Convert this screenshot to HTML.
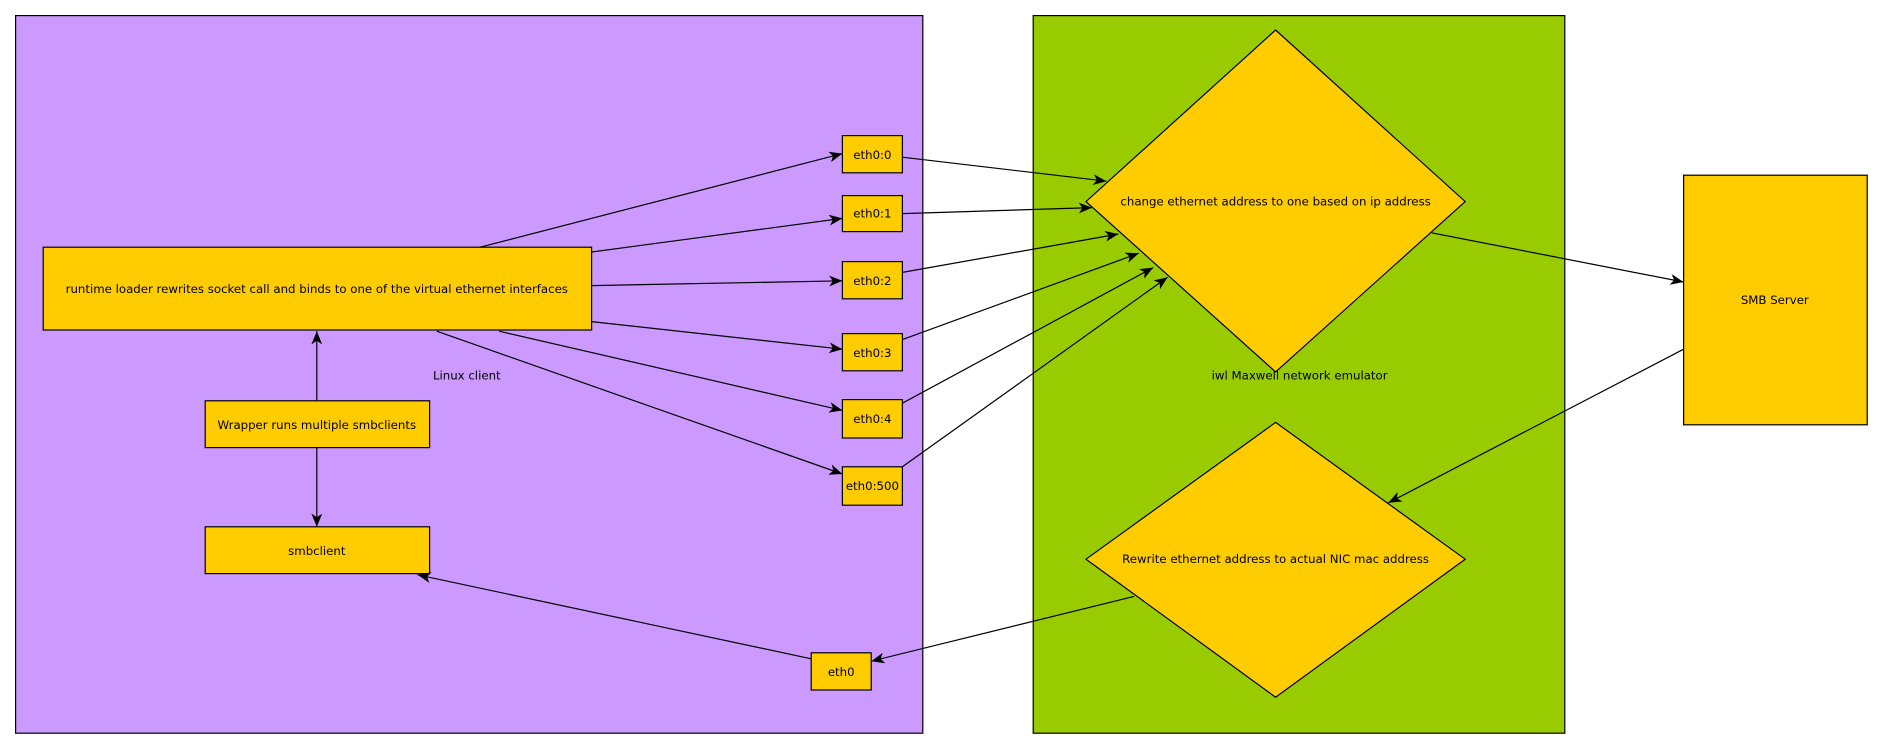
<!DOCTYPE html>
<html><head><meta charset="utf-8"><style>
html,body{margin:0;padding:0;background:#fff;width:1882px;height:750px;overflow:hidden}
svg{display:block}
text{font-family:"DejaVu Sans","Liberation Sans",sans-serif;font-size:9.8px;fill:#000;text-anchor:middle;dominant-baseline:central}
</style></head><body>
<svg width="1882" height="750" viewBox="0 0 1568.33 625" xmlns="http://www.w3.org/2000/svg">
<defs><marker id="a" markerWidth="12" markerHeight="9" refX="11" refY="4.5" orient="auto" markerUnits="userSpaceOnUse"><path d="M0,0 L11,4.5 L0,9 L3,4.5 Z" fill="#000"/></marker></defs>
<rect x="13" y="13" width="756" height="598" fill="#cc99ff" stroke="#000" stroke-width="1"/>
<rect x="861" y="13" width="443" height="598" fill="#99cc00" stroke="#000" stroke-width="1"/>
<text x="389" y="313">Linux client</text>
<text x="1083" y="313">iwl Maxwell network emulator</text>
<g fill="#ffcc00" stroke="#000" stroke-width="1">
<rect x="36" y="206" width="457" height="69"/>
<rect x="171" y="334" width="187" height="39"/>
<rect x="171" y="439" width="187" height="39"/>
<rect x="702" y="113" width="50" height="31"/>
<rect x="702" y="163" width="50" height="30"/>
<rect x="702" y="218" width="50" height="31"/>
<rect x="702" y="278" width="50" height="31"/>
<rect x="702" y="333" width="50" height="32"/>
<rect x="702" y="389" width="50" height="32"/>
<rect x="676" y="544" width="50" height="31"/>
<polygon points="1063,25 1221,168 1063,310 905,168"/>
<polygon points="1063,352 1221,466 1063,581 905,466"/>
<rect x="1403" y="146" width="153" height="208"/>
</g>
<text x="264" y="241">runtime loader rewrites socket call and binds to one of the virtual ethernet interfaces</text>
<text x="264" y="354">Wrapper runs multiple smbclients</text>
<text x="264" y="459">smbclient</text>
<text x="727" y="129">eth0:0</text>
<text x="727" y="178">eth0:1</text>
<text x="727" y="234">eth0:2</text>
<text x="727" y="294">eth0:3</text>
<text x="727" y="349">eth0:4</text>
<text x="727" y="405">eth0:500</text>
<text x="701" y="560">eth0</text>
<text x="1063" y="168">change ethernet address to one based on ip address</text>
<text x="1063" y="466">Rewrite ethernet address to actual NIC mac address</text>
<text x="1479" y="250">SMB Server</text>
<g stroke="#000" stroke-width="1" fill="none" marker-end="url(#a)">
<line x1="400" y1="206" x2="702" y2="128"/>
<line x1="493" y1="210" x2="702" y2="182"/>
<line x1="493" y1="238" x2="702" y2="234"/>
<line x1="493" y1="268" x2="702" y2="291"/>
<line x1="416" y1="276" x2="702" y2="342"/>
<line x1="364" y1="276" x2="702" y2="395"/>
<line x1="752" y1="131" x2="922" y2="151"/>
<line x1="752" y1="178" x2="910" y2="173"/>
<line x1="752" y1="227" x2="932" y2="195"/>
<line x1="752" y1="283" x2="949" y2="211"/>
<line x1="752" y1="336" x2="961" y2="223"/>
<line x1="752" y1="389" x2="973" y2="231"/>
<line x1="1193" y1="194" x2="1403" y2="235"/>
<line x1="1403" y1="291" x2="1157" y2="419"/>
<line x1="945" y1="497" x2="726" y2="551"/>
<line x1="676" y1="549" x2="348" y2="479"/>
<line x1="264" y1="334" x2="264" y2="276"/>
<line x1="264" y1="373" x2="264" y2="439"/>
</g>
</svg>
</body></html>
